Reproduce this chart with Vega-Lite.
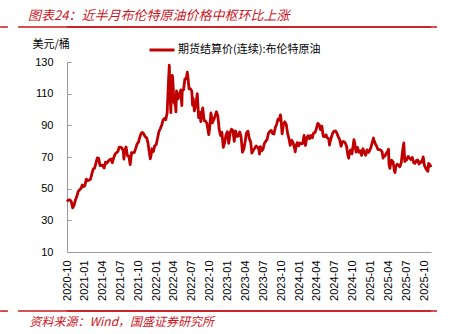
{
"$schema": "https://vega.github.io/schema/vega-lite/v6.json",
"width": 364, "height": 190,
"autosize": {"type": "none"},
"padding": {"left": 67, "top": 62, "right": 21, "bottom": 82},
"background": "white",
"config": {"view": {"stroke": null}, "font": "Liberation Sans", "axis": {"labelOverlap": false, "labelFlush": false}},
"title": {"text": "图表24：近半月布伦特原油价格中枢环比上涨", "anchor": "start", "frame": "group", "dx": -39, "offset": 3, "font": "Noto Sans CJK SC", "fontSize": 13, "fontStyle": "italic", "fontWeight": "normal", "color": "#C8161E"},
"resolve": {"axis": {"x": "independent", "y": "independent"}},
"datasets": {"brent": [
{"d":"2020-10-01","p":41.8},{"d":"2020-10-09","p":42.9},{"d":"2020-10-16","p":42.9},{"d":"2020-10-23","p":41.8},{"d":"2020-10-30","p":37.9},{"d":"2020-11-06","p":39.5},{"d":"2020-11-13","p":42.8},{"d":"2020-11-20","p":45.0},{"d":"2020-11-27","p":48.2},{"d":"2020-12-04","p":49.3},{"d":"2020-12-11","p":50.0},{"d":"2020-12-18","p":52.3},{"d":"2020-12-24","p":51.3},{"d":"2020-12-31","p":51.8},
{"d":"2021-01-08","p":56.0},{"d":"2021-01-15","p":55.1},{"d":"2021-01-22","p":55.4},{"d":"2021-01-29","p":55.9},{"d":"2021-02-05","p":59.3},{"d":"2021-02-12","p":62.4},{"d":"2021-02-19","p":62.9},{"d":"2021-02-26","p":66.1},{"d":"2021-03-05","p":69.4},{"d":"2021-03-12","p":69.2},{"d":"2021-03-19","p":64.5},{"d":"2021-03-26","p":64.6},{"d":"2021-04-01","p":64.9},{"d":"2021-04-09","p":63.0},{"d":"2021-04-16","p":66.8},{"d":"2021-04-23","p":66.1},{"d":"2021-04-30","p":67.3},{"d":"2021-05-07","p":68.3},{"d":"2021-05-14","p":68.7},{"d":"2021-05-21","p":66.4},{"d":"2021-05-28","p":69.6},{"d":"2021-06-04","p":71.9},{"d":"2021-06-11","p":72.7},{"d":"2021-06-18","p":73.5},{"d":"2021-06-25","p":76.2},{"d":"2021-07-02","p":76.2},{"d":"2021-07-09","p":75.6},{"d":"2021-07-16","p":73.6},{"d":"2021-07-19","p":68.6},{"d":"2021-07-23","p":74.1},{"d":"2021-07-30","p":76.3},{"d":"2021-08-06","p":70.7},{"d":"2021-08-13","p":70.6},{"d":"2021-08-20","p":65.2},{"d":"2021-08-27","p":72.7},{"d":"2021-09-03","p":72.6},{"d":"2021-09-10","p":72.9},{"d":"2021-09-17","p":75.3},{"d":"2021-09-24","p":78.1},{"d":"2021-10-01","p":79.3},{"d":"2021-10-08","p":82.4},{"d":"2021-10-15","p":84.9},{"d":"2021-10-22","p":85.5},{"d":"2021-10-29","p":84.4},{"d":"2021-11-05","p":82.7},{"d":"2021-11-12","p":82.2},{"d":"2021-11-19","p":78.9},{"d":"2021-11-26","p":72.7},{"d":"2021-12-01","p":68.9},{"d":"2021-12-03","p":69.9},{"d":"2021-12-10","p":75.2},{"d":"2021-12-17","p":73.5},{"d":"2021-12-23","p":76.9},{"d":"2021-12-31","p":77.8},
{"d":"2022-01-07","p":81.8},{"d":"2022-01-14","p":86.1},{"d":"2022-01-21","p":87.9},{"d":"2022-01-28","p":90.0},{"d":"2022-02-04","p":93.3},{"d":"2022-02-11","p":94.4},{"d":"2022-02-18","p":93.5},{"d":"2022-02-25","p":97.9},{"d":"2022-03-04","p":118.1},{"d":"2022-03-08","p":128.0},{"d":"2022-03-11","p":112.7},{"d":"2022-03-16","p":98.0},{"d":"2022-03-18","p":107.9},{"d":"2022-03-23","p":121.6},{"d":"2022-03-25","p":120.7},{"d":"2022-04-01","p":104.4},{"d":"2022-04-08","p":102.8},{"d":"2022-04-11","p":98.5},{"d":"2022-04-14","p":111.7},{"d":"2022-04-22","p":106.7},{"d":"2022-04-29","p":109.3},{"d":"2022-05-06","p":112.4},{"d":"2022-05-11","p":102.5},{"d":"2022-05-13","p":111.6},{"d":"2022-05-20","p":112.6},{"d":"2022-05-27","p":119.4},{"d":"2022-06-03","p":119.7},{"d":"2022-06-08","p":123.6},{"d":"2022-06-10","p":122.0},{"d":"2022-06-17","p":113.1},{"d":"2022-06-24","p":113.1},{"d":"2022-07-01","p":111.6},{"d":"2022-07-05","p":102.8},{"d":"2022-07-08","p":107.0},{"d":"2022-07-14","p":99.1},{"d":"2022-07-22","p":103.2},{"d":"2022-07-29","p":110.0},{"d":"2022-08-05","p":94.9},{"d":"2022-08-12","p":98.2},{"d":"2022-08-16","p":92.3},{"d":"2022-08-19","p":96.7},{"d":"2022-08-26","p":101.0},{"d":"2022-09-02","p":93.0},{"d":"2022-09-09","p":92.8},{"d":"2022-09-16","p":91.4},{"d":"2022-09-23","p":86.2},{"d":"2022-09-26","p":84.1},{"d":"2022-09-30","p":88.0},{"d":"2022-10-07","p":97.9},{"d":"2022-10-14","p":91.6},{"d":"2022-10-21","p":93.5},{"d":"2022-10-28","p":95.8},{"d":"2022-11-04","p":98.6},{"d":"2022-11-11","p":96.0},{"d":"2022-11-18","p":87.6},{"d":"2022-11-25","p":83.6},{"d":"2022-12-02","p":85.6},{"d":"2022-12-09","p":76.1},{"d":"2022-12-16","p":79.0},{"d":"2022-12-23","p":84.0},{"d":"2022-12-30","p":85.9},
{"d":"2023-01-06","p":78.6},{"d":"2023-01-13","p":85.3},{"d":"2023-01-20","p":87.6},{"d":"2023-01-27","p":86.7},{"d":"2023-02-03","p":79.9},{"d":"2023-02-10","p":86.4},{"d":"2023-02-17","p":83.0},{"d":"2023-02-24","p":83.2},{"d":"2023-03-03","p":85.8},{"d":"2023-03-10","p":82.8},{"d":"2023-03-17","p":73.0},{"d":"2023-03-24","p":75.0},{"d":"2023-03-31","p":79.8},{"d":"2023-04-06","p":85.1},{"d":"2023-04-14","p":86.3},{"d":"2023-04-21","p":81.7},{"d":"2023-04-28","p":79.5},{"d":"2023-05-04","p":72.5},{"d":"2023-05-12","p":74.2},{"d":"2023-05-19","p":75.6},{"d":"2023-05-26","p":77.0},{"d":"2023-06-02","p":76.1},{"d":"2023-06-09","p":74.8},{"d":"2023-06-12","p":71.8},{"d":"2023-06-16","p":76.6},{"d":"2023-06-23","p":73.9},{"d":"2023-06-30","p":74.9},{"d":"2023-07-07","p":78.5},{"d":"2023-07-14","p":79.9},{"d":"2023-07-21","p":81.1},{"d":"2023-07-28","p":85.0},{"d":"2023-08-04","p":86.2},{"d":"2023-08-11","p":86.8},{"d":"2023-08-18","p":84.8},{"d":"2023-08-25","p":84.5},{"d":"2023-09-01","p":88.6},{"d":"2023-09-08","p":90.7},{"d":"2023-09-15","p":93.9},{"d":"2023-09-22","p":93.3},{"d":"2023-09-27","p":96.6},{"d":"2023-09-29","p":95.3},{"d":"2023-10-06","p":84.6},{"d":"2023-10-13","p":90.9},{"d":"2023-10-20","p":92.2},{"d":"2023-10-27","p":90.5},{"d":"2023-11-03","p":84.9},{"d":"2023-11-10","p":81.4},{"d":"2023-11-16","p":77.4},{"d":"2023-11-24","p":80.6},{"d":"2023-12-01","p":78.9},{"d":"2023-12-08","p":75.8},{"d":"2023-12-12","p":73.2},{"d":"2023-12-15","p":76.6},{"d":"2023-12-22","p":79.1},{"d":"2023-12-29","p":77.0},
{"d":"2024-01-05","p":78.8},{"d":"2024-01-12","p":78.3},{"d":"2024-01-19","p":78.6},{"d":"2024-01-26","p":83.6},{"d":"2024-02-02","p":77.3},{"d":"2024-02-09","p":82.2},{"d":"2024-02-16","p":83.5},{"d":"2024-02-23","p":81.6},{"d":"2024-03-01","p":83.6},{"d":"2024-03-08","p":82.1},{"d":"2024-03-15","p":85.3},{"d":"2024-03-22","p":85.4},{"d":"2024-03-28","p":87.5},{"d":"2024-04-05","p":91.2},{"d":"2024-04-12","p":90.5},{"d":"2024-04-19","p":87.3},{"d":"2024-04-26","p":89.5},{"d":"2024-05-03","p":83.0},{"d":"2024-05-10","p":82.8},{"d":"2024-05-17","p":84.0},{"d":"2024-05-24","p":82.1},{"d":"2024-05-31","p":81.6},{"d":"2024-06-04","p":77.5},{"d":"2024-06-07","p":79.6},{"d":"2024-06-14","p":82.6},{"d":"2024-06-21","p":85.2},{"d":"2024-06-28","p":86.4},{"d":"2024-07-05","p":86.5},{"d":"2024-07-12","p":85.0},{"d":"2024-07-19","p":82.6},{"d":"2024-07-26","p":81.1},{"d":"2024-08-02","p":76.8},{"d":"2024-08-09","p":79.7},{"d":"2024-08-16","p":79.7},{"d":"2024-08-23","p":79.0},{"d":"2024-08-30","p":76.9},{"d":"2024-09-06","p":71.1},{"d":"2024-09-10","p":69.2},{"d":"2024-09-13","p":71.6},{"d":"2024-09-20","p":74.5},{"d":"2024-09-27","p":72.0},{"d":"2024-10-04","p":78.1},{"d":"2024-10-07","p":80.9},{"d":"2024-10-11","p":79.0},{"d":"2024-10-18","p":73.1},{"d":"2024-10-25","p":76.1},{"d":"2024-11-01","p":73.1},{"d":"2024-11-08","p":73.9},{"d":"2024-11-15","p":71.0},{"d":"2024-11-22","p":75.2},{"d":"2024-11-29","p":72.9},{"d":"2024-12-06","p":71.1},{"d":"2024-12-13","p":74.5},{"d":"2024-12-20","p":72.9},{"d":"2024-12-27","p":74.2},
{"d":"2025-01-03","p":76.5},{"d":"2025-01-10","p":79.8},{"d":"2025-01-15","p":82.0},{"d":"2025-01-17","p":80.8},{"d":"2025-01-24","p":78.5},{"d":"2025-01-31","p":76.8},{"d":"2025-02-07","p":74.7},{"d":"2025-02-14","p":74.7},{"d":"2025-02-21","p":74.4},{"d":"2025-02-28","p":73.2},{"d":"2025-03-05","p":69.3},{"d":"2025-03-07","p":70.4},{"d":"2025-03-14","p":70.6},{"d":"2025-03-21","p":72.2},{"d":"2025-03-28","p":73.6},{"d":"2025-04-02","p":74.9},{"d":"2025-04-04","p":65.6},{"d":"2025-04-09","p":62.8},{"d":"2025-04-11","p":64.8},{"d":"2025-04-17","p":68.0},{"d":"2025-04-25","p":66.9},{"d":"2025-05-02","p":61.3},{"d":"2025-05-05","p":60.2},{"d":"2025-05-09","p":63.9},{"d":"2025-05-16","p":65.4},{"d":"2025-05-23","p":64.8},{"d":"2025-05-30","p":63.9},{"d":"2025-06-06","p":66.5},{"d":"2025-06-13","p":74.2},{"d":"2025-06-19","p":78.9},{"d":"2025-06-24","p":67.1},{"d":"2025-06-27","p":67.8},{"d":"2025-07-04","p":68.3},{"d":"2025-07-11","p":70.4},{"d":"2025-07-18","p":69.3},{"d":"2025-07-25","p":68.4},{"d":"2025-08-01","p":69.7},{"d":"2025-08-08","p":66.6},{"d":"2025-08-15","p":65.9},{"d":"2025-08-22","p":67.7},{"d":"2025-08-29","p":68.1},{"d":"2025-09-05","p":65.5},{"d":"2025-09-12","p":67.0},{"d":"2025-09-19","p":66.7},{"d":"2025-09-26","p":70.1},{"d":"2025-10-03","p":64.5},{"d":"2025-10-10","p":62.7},{"d":"2025-10-17","p":61.3},{"d":"2025-10-20","p":61.0},{"d":"2025-10-24","p":65.9},{"d":"2025-10-31","p":65.1},{"d":"2025-11-05","p":63.6}
]},
"layer": [
{
"data": {"name": "brent"},
"mark": {"type": "line", "strokeWidth": 2.8, "strokeJoin": "round"},
"encoding": {
"x": {"field": "d", "type": "temporal",
 "scale": {"domain": [{"year": 2020, "month": 10, "date": 1}, {"year": 2025, "month": 11, "date": 5}]},
 "axis": {"orient": "bottom", "title": "资料来源：Wind，国盛证券研究所", "titleX": -38, "titleY": 69, "titleAlign": "left", "titleBaseline": "middle", "titleFont": "Noto Sans CJK SC", "titleFontSize": 12, "titleFontStyle": "italic", "titleFontWeight": "normal", "titleColor": "#C8161E",
  "values": [{"year":2020,"month":10,"date":1},{"year":2021,"month":1,"date":1},{"year":2021,"month":4,"date":1},{"year":2021,"month":7,"date":1},{"year":2021,"month":10,"date":1},{"year":2022,"month":1,"date":1},{"year":2022,"month":4,"date":1},{"year":2022,"month":7,"date":1},{"year":2022,"month":10,"date":1},{"year":2023,"month":1,"date":1},{"year":2023,"month":4,"date":1},{"year":2023,"month":7,"date":1},{"year":2023,"month":10,"date":1},{"year":2024,"month":1,"date":1},{"year":2024,"month":4,"date":1},{"year":2024,"month":7,"date":1},{"year":2024,"month":10,"date":1},{"year":2025,"month":1,"date":1},{"year":2025,"month":4,"date":1},{"year":2025,"month":7,"date":1},{"year":2025,"month":10,"date":1}],
  "format": "%Y-%m", "labelAngle": -90, "labelFontSize": 11, "labelColor": "#000", "labelPadding": 8, "ticks": false, "grid": false, "domainColor": "#999", "labelFlush": false, "labelOverlap": false}},
"y": {"field": "p", "type": "quantitative",
 "scale": {"domain": [10, 130], "nice": false, "zero": false},
 "axis": {"title": "美元/桶", "titleAngle": 0, "titleX": -35, "titleY": -18, "titleAlign": "left", "titleBaseline": "middle", "titleFont": "Noto Sans CJK SC", "titleFontSize": 11, "titleFontWeight": "normal", "titleColor": "#000",
  "values": [10, 30, 50, 70, 90, 110, 130], "grid": false, "domainColor": "#999", "tickColor": "#999", "tickSize": -4, "labelPadding": 18, "labelFontSize": 11, "labelColor": "#000", "labelOverlap": false}},
"color": {"datum": "期货结算价(连续):布伦特原油", "scale": {"range": ["#C00000"]},
 "legend": {"orient": "none", "legendX": 81, "legendY": -26, "title": null, "symbolType": "stroke", "symbolSize": 625, "symbolStrokeWidth": 3, "labelFont": "Noto Sans CJK SC", "labelFontSize": 11, "labelColor": "#000", "padding": 0, "labelOffset": 2}}
}
},
{"data": {"values": [{"k": "top"}]},
 "mark": {"type": "rule", "color": "#C8161E", "strokeWidth": 1.5},
 "encoding": {"y": {"datum": 152.1, "type": "quantitative", "axis": null}}},
{"data": {"values": [{"k": "bottom"}]},
 "mark": {"type": "rule", "color": "#C8161E", "strokeWidth": 1.5},
 "encoding": {"y": {"datum": -27.3, "type": "quantitative", "axis": null}}},
{"data": {"values": [{"k": "a"}]},
 "mark": {"type": "rule", "color": "#C8161E", "strokeWidth": 1.5},
 "encoding": {"x": {"datum": {"year": 2020, "month": 1, "date": 25}, "type": "temporal", "axis": null}, "x2": {"datum": {"year": 2025, "month": 12, "date": 6}}, "y": {"datum": 152.1, "type": "quantitative", "axis": null}}},
{"data": {"values": [{"k": "b"}]},
 "mark": {"type": "rule", "color": "#C8161E", "strokeWidth": 1.5},
 "encoding": {"x": {"datum": {"year": 2019, "month": 10, "date": 25}, "type": "temporal", "axis": null}, "x2": {"datum": {"year": 2019, "month": 12, "date": 4}}, "y": {"datum": 152.1, "type": "quantitative", "axis": null}}},
{"data": {"values": [{"k": "c"}]},
 "mark": {"type": "rule", "color": "#C8161E", "strokeWidth": 1.5},
 "encoding": {"x": {"datum": {"year": 2020, "month": 1, "date": 25}, "type": "temporal", "axis": null}, "x2": {"datum": {"year": 2025, "month": 12, "date": 6}}, "y": {"datum": -27.3, "type": "quantitative", "axis": null}}},
{"data": {"values": [{"k": "d"}]},
 "mark": {"type": "rule", "color": "#C8161E", "strokeWidth": 1.5},
 "encoding": {"x": {"datum": {"year": 2019, "month": 10, "date": 25}, "type": "temporal", "axis": null}, "x2": {"datum": {"year": 2019, "month": 12, "date": 4}}, "y": {"datum": -27.3, "type": "quantitative", "axis": null}}}
]
}
